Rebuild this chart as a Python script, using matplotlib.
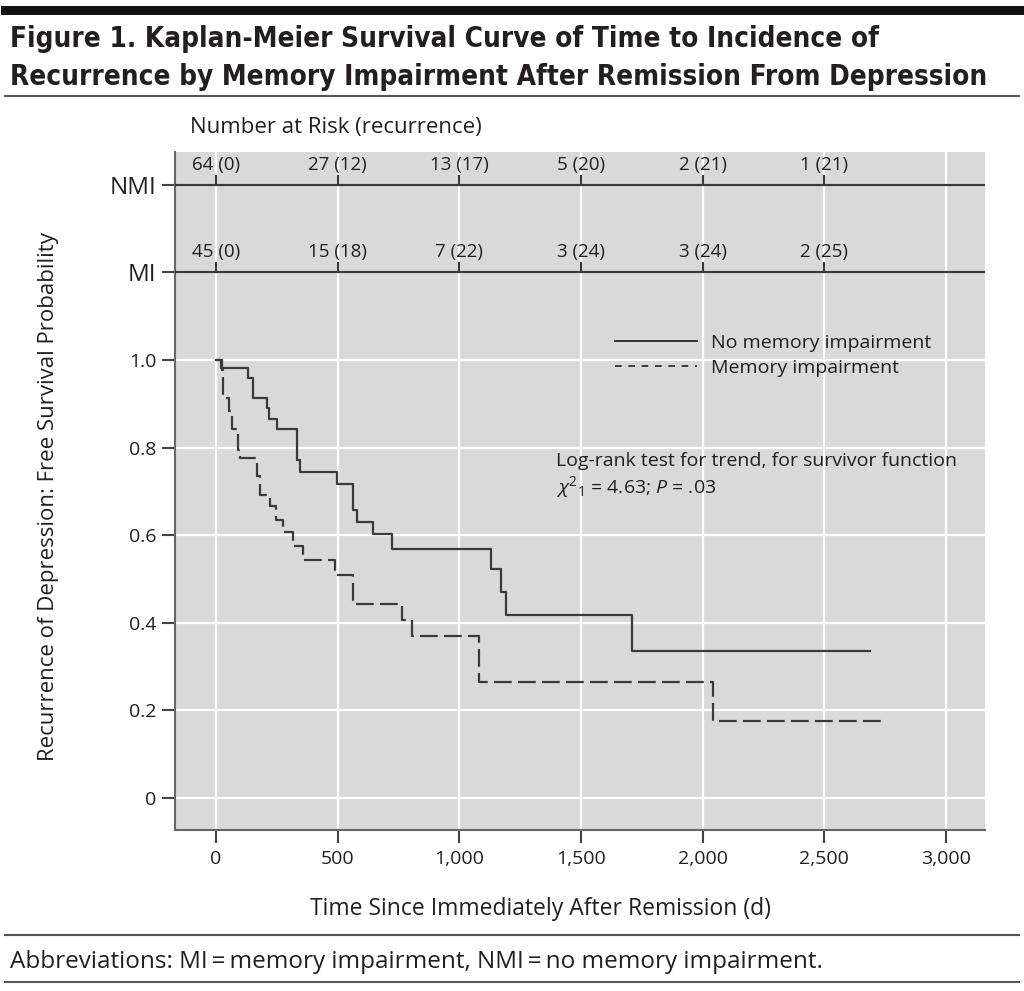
import matplotlib
matplotlib.use('Agg')
import matplotlib.pyplot as plt
from matplotlib.lines import Line2D
from matplotlib import font_manager

# ---------------- data ----------------
nmi_times = [0, 20, 130, 151, 208, 219, 252, 332, 345, 496, 564, 578, 646, 722,
             1129, 1170, 1191, 1708, 2688]
nmi_surv = [1.0, 0.981, 0.958, 0.913, 0.890, 0.865, 0.842, 0.772, 0.745, 0.717,
            0.658, 0.631, 0.602, 0.568, 0.522, 0.471, 0.418, 0.336, 0.336]

mi_times = [0, 25, 31, 53, 67, 92, 99, 167, 181, 222, 249, 277, 318, 359, 489,
            562, 763, 807, 1081, 2041, 2757]
mi_surv = [1.0, 0.978, 0.913, 0.884, 0.842, 0.795, 0.776, 0.735, 0.692, 0.667,
           0.635, 0.607, 0.575, 0.543, 0.509, 0.442, 0.406, 0.370, 0.266, 0.176, 0.176]

risk_times = [0, 500, 1000, 1500, 2000, 2500]
nmi_at_risk = [64, 27, 13, 5, 2, 1]
nmi_events = [0, 12, 17, 20, 21, 21]
mi_at_risk = [45, 15, 7, 3, 3, 2]
mi_events = [0, 18, 22, 24, 24, 25]

x_ticks = [0, 500, 1000, 1500, 2000, 2500, 3000]
x_ticklabels = ['0', '500', '1,000', '1,500', '2,000', '2,500', '3,000']
y_ticks = [0, 0.2, 0.4, 0.6, 0.8, 1.0]
y_ticklabels = ['0', '0.2', '0.4', '0.6', '0.8', '1.0']
risk_rows = {'NMI': 1.4, 'MI': 1.2}

title_lines = ['Figure 1. Kaplan-Meier Survival Curve of Time to Incidence of',
               'Recurrence by Memory Impairment After Remission From Depression']

# ---------------- style ----------------
FONT = ['Open Sans', 'DejaVu Sans']
plt.rcParams['font.family'] = FONT
plt.rcParams['mathtext.fontset'] = 'custom'
plt.rcParams['mathtext.rm'] = 'Open Sans'
plt.rcParams['mathtext.it'] = 'Open Sans:italic'
LINE_C = '#3a3a3a'
TXT_C = '#231f20'

fig = plt.figure(figsize=(10.24, 9.91), dpi=100)
W, H = 1024, 991

def fx(px):
    return px / W

def fy(py):
    return 1 - py / H

ax = fig.add_axes([fx(175), fy(830), fx(985) - fx(175), fy(152) - fy(830)])
ax.set_facecolor('#d9d9d9')
ax.set_xlim(-168, 3160)
ax.set_ylim(-0.073, 1.475)

ax.set_axisbelow(True)
ax.set_xticks(x_ticks)
ax.set_xticklabels(x_ticklabels)
ax.set_yticks(y_ticks + [risk_rows['MI'], risk_rows['NMI']])
ax.set_yticklabels(y_ticklabels + ['MI', 'NMI'])
ax.grid(True, color='white', lw=1.6)

for s in ['top', 'right']:
    ax.spines[s].set_visible(False)
for s in ['left', 'bottom']:
    ax.spines[s].set_color('#666666')
    ax.spines[s].set_linewidth(1.5)
ax.tick_params(length=9.4, width=1.5, color='#444444', labelsize=14,
               labelcolor=TXT_C, pad=4)
ax.tick_params(axis='x', pad=5)
for lab in ax.get_yticklabels()[-2:]:
    lab.set_fontsize(17.5)

# risk table rows
for name, yv in risk_rows.items():
    ax.axhline(yv, color=LINE_C, lw=1.6, zorder=3)
    ax.vlines(risk_times, yv, yv + 0.023, color=LINE_C, lw=1.5, zorder=3)
for t, n, e in zip(risk_times, nmi_at_risk, nmi_events):
    ax.annotate(f'{n} ({e})', xy=(t, risk_rows['NMI']), xytext=(0, 11),
                textcoords='offset points', ha='center', va='baseline',
                fontsize=13.5, color=TXT_C)
for t, n, e in zip(risk_times, mi_at_risk, mi_events):
    ax.annotate(f'{n} ({e})', xy=(t, risk_rows['MI']), xytext=(0, 11),
                textcoords='offset points', ha='center', va='baseline',
                fontsize=13.5, color=TXT_C)

# survival curves
ax.step(nmi_times, nmi_surv, where='post', color=LINE_C, lw=1.6, zorder=4)
ax.step(mi_times, mi_surv, where='post', color=LINE_C, lw=1.6,
        linestyle=(0, (8, 2.8)), zorder=4)

# legend
handles = [Line2D([], [], color='#222222', lw=1.3),
           Line2D([], [], color='#222222', lw=1.2, linestyle=(0, (4, 4)))]
leg = ax.legend(handles, ['No memory impairment', 'Memory impairment'],
                loc='upper left', bbox_to_anchor=(fx(615), fy(334)),
                bbox_transform=fig.transFigure, frameon=False, fontsize=14,
                handlelength=4.2, handletextpad=0.75, labelspacing=0.35,
                borderpad=0, borderaxespad=0)
for t in leg.get_texts():
    t.set_color(TXT_C)

# log-rank annotation
ax.text(1397, 0.770, 'Log-rank test for trend, for survivor function',
        fontsize=14, color=TXT_C, va='center', ha='left')
ax.text(1397, 0.710, r'$\chi^{2}{}_{1}$ = 4.63; $P$ = .03',
        fontsize=14, color=TXT_C, va='center', ha='left')

ax.set_xlabel('Time Since Immediately After Remission (d)', fontsize=16.5,
              color=TXT_C)
ax.xaxis.set_label_coords((540 - 175) / 810, (830 - 897) / 678)
ax.set_ylabel('Recurrence of Depression: Free Survival Probability',
              fontsize=16, color=TXT_C)
ax.yaxis.set_label_coords((59 - 175) / 810, (830 - 497) / 678)

fig.text(fx(190), fy(127), 'Number at Risk (recurrence)', fontsize=16,
         color=TXT_C, ha='left', va='center')

# title (prefer a condensed bold face if one is installed, then fit width)
cond = [f for f in font_manager.fontManager.ttflist
        if str(f.stretch) in ('condensed', 'semi-condensed', '500', '600')
        or 'Narrow' in f.name or 'Condensed' in f.name]
cond_bold = [f for f in cond if str(f.weight) in ('bold', '700', '600', 'semibold', 'demibold')]
if cond_bold:
    tprops = dict(fontproperties=font_manager.FontProperties(fname=cond_bold[0].fname, size=24))
else:
    tprops = dict(family=['Roboto', 'DejaVu Sans'], fontweight='bold', fontsize=21)

t1 = fig.text(fx(10), fy(47), title_lines[0], color=TXT_C, ha='left',
              va='baseline', **tprops)
t2 = fig.text(fx(10), fy(85), title_lines[1], color=TXT_C, ha='left',
              va='baseline', **tprops)
r = fig.canvas.get_renderer()
w2 = t2.get_window_extent(renderer=r).width
scale = 975.0 / w2
for t in (t1, t2):
    t.set_fontsize(t.get_fontsize() * scale)

fig.add_artist(Line2D([fx(5), fx(1019)], [fy(9.5), fy(9.5)], color='#111111', lw=6.5))
fig.add_artist(Line2D([fx(5), fx(1019)], [fy(96), fy(96)], color='#555555', lw=1.5))
fig.add_artist(Line2D([fx(5), fx(1019)], [fy(935), fy(935)], color='#555555', lw=1.5))
fig.add_artist(Line2D([fx(5), fx(1019)], [fy(982), fy(982)], color='#555555', lw=1.5))
fig.text(fx(10), fy(968), 'Abbreviations: MI\u2009=\u2009memory impairment, NMI\u2009=\u2009no memory impairment.',
         fontsize=17.5, color=TXT_C, ha='left', va='baseline')

fig.savefig('out.png', dpi=100, facecolor='white')
